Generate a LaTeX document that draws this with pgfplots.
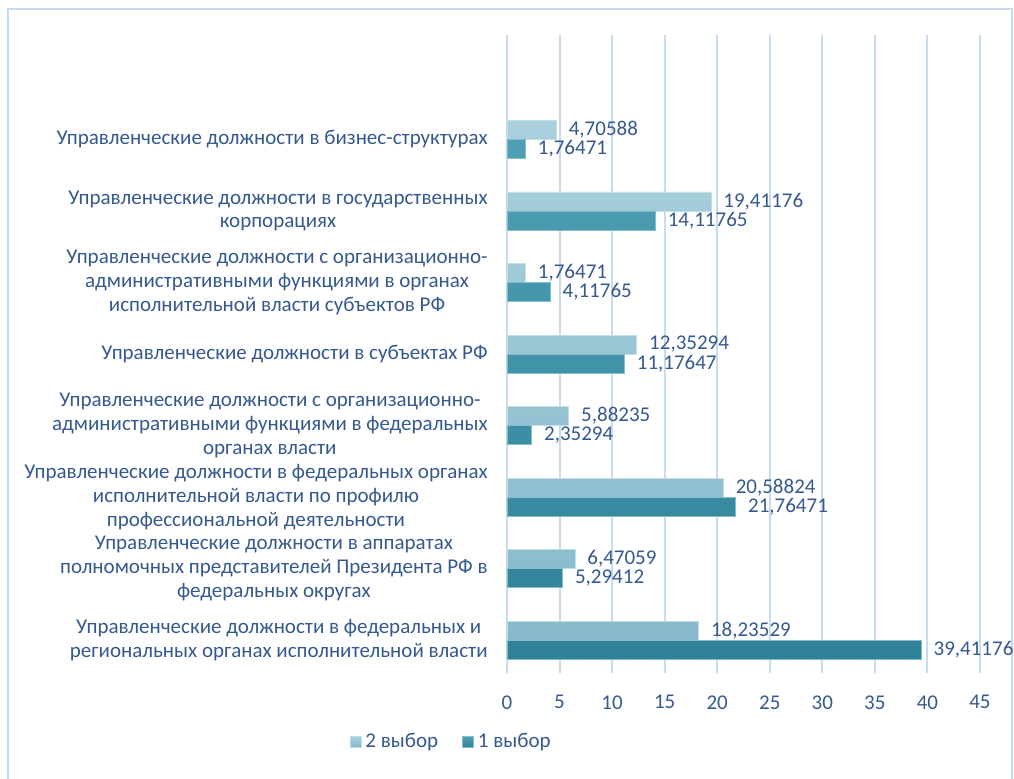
\documentclass[border=0pt]{standalone}
\usepackage{fontspec}
\setmainfont{Carlito}
\usepackage{pgfplots}
\pgfplotsset{compat=1.18}
\definecolor{txt}{HTML}{35598F}
\definecolor{gridc}{HTML}{C9DBF1}
\definecolor{lightT}{HTML}{A9D0DD}
\definecolor{lightB}{HTML}{86BACB}
\definecolor{darkT}{HTML}{4FA0B5}
\definecolor{darkB}{HTML}{2F8198}
\begin{document}
\begin{tikzpicture}
\useasboundingbox (-253.5pt,-52.5pt) rectangle (253.5pt,336.5pt);
\draw[gridc, line width=1pt] (-249.5pt,-70pt) -- (-249.5pt,332pt) -- (252.5pt,332pt) -- (252.5pt,-70pt);
\begin{axis}[
  scale only axis,
  width=236.5pt, height=319pt,
  at={(0pt,0pt)}, anchor=south west,
  xmin=0, xmax=45,
  ymin=-0.46, ymax=8.46,
  xtick={0,5,...,45},
  ytick={0,...,7},
  yticklabels={
    {Управленческие должности в федеральных и\\региональных органах исполнительной власти},
    {Управленческие должности в аппаратах\\полномочных представителей Президента РФ в\\федеральных округах},
    {Управленческие должности в федеральных органах\\исполнительной власти по профилю\\профессиональной деятельности},
    {Управленческие должности с организационно-\\административными функциями в федеральных\\органах власти},
    {Управленческие должности в субъектах РФ},
    {Управленческие должности с организационно-\\административными функциями в органах\\исполнительной власти субъектов РФ},
    {Управленческие должности в государственных\\корпорациях},
    {Управленческие должности в бизнес-структурах}
  },
  axis line style={draw=none},
  major tick length=0pt,
  xmajorgrids,
  major grid style={gridc, line width=1pt},
  /pgf/number format/assume math mode=true,
  tick label style={font=\fontsize{10.5}{11.8}\selectfont, text=txt},
  yticklabel style={align=center, inner sep=0pt, xshift=-9.5pt},
  xticklabel style={inner sep=0pt, yshift=-11pt},
  point meta=x,
  nodes near coords,
  nodes near coords style={/pgf/number format/fixed, /pgf/number format/fixed zerofill,
    /pgf/number format/precision=5, /pgf/number format/use comma, /pgf/number format/assume math mode=true,
    anchor=west, inner sep=0pt, xshift=6pt, text=txt, font=\fontsize{10.5}{12}\selectfont},
  xbar, bar width=9.5pt,
  legend columns=2,
  legend style={draw=none, fill=none, at={(-0.116,-0.108)}, anchor=center,
    font=\fontsize{10.5}{12}\selectfont, text=txt,
    /tikz/every even column/.append style={column sep=10pt}},
  legend image code/.code={\path[#1] (0pt,-2.75pt) rectangle (5.5pt,2.75pt);},
]
\addplot[xbar, bar shift=4.75pt, top color=lightT, bottom color=lightB, draw=lightT!70!white, line width=0.4pt] coordinates {
  (18.23529,0) (6.47059,1) (20.58824,2) (5.88235,3) (12.35294,4) (1.76471,5) (19.41176,6) (4.70588,7)};
\addlegendentry{2 выбор}
\addplot[xbar, bar shift=-4.75pt, top color=darkT, bottom color=darkB, draw=darkT!70!white, line width=0.4pt] coordinates {
  (39.41176,0) (5.29412,1) (21.76471,2) (2.35294,3) (11.17647,4) (4.11765,5) (14.11765,6) (1.76471,7)};
\addlegendentry{1 выбор}
\end{axis}
\end{tikzpicture}
\end{document}
